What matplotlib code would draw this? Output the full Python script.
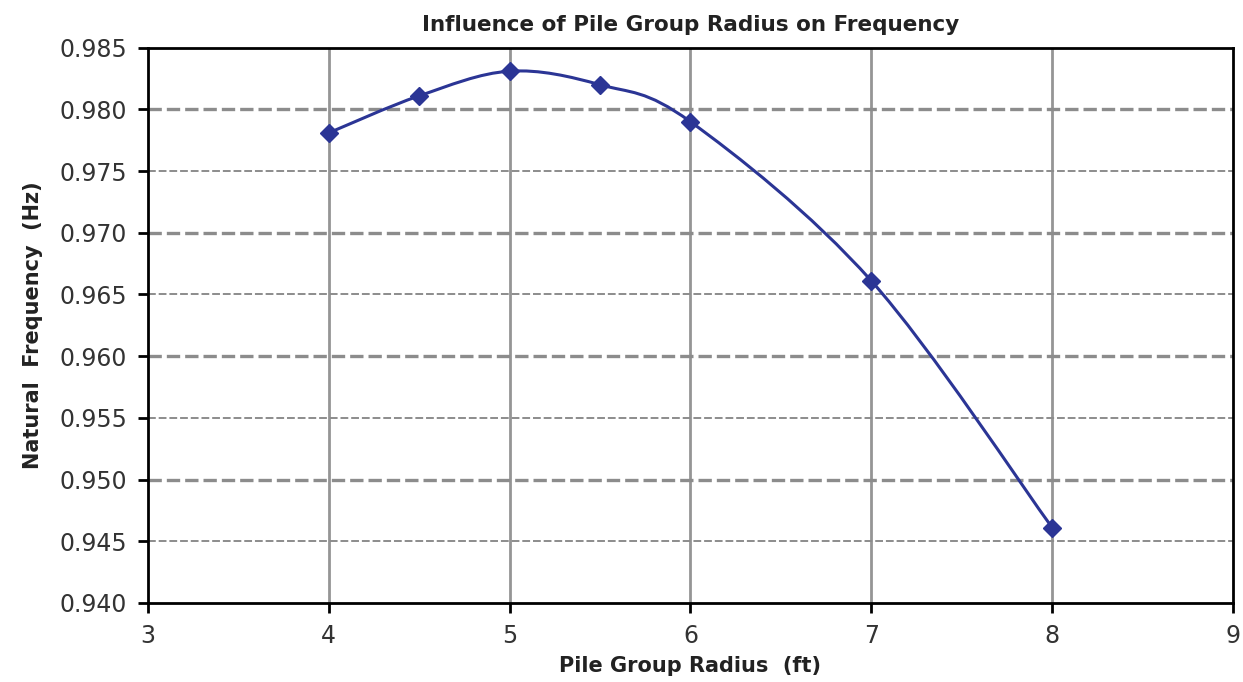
import numpy as np
import matplotlib.pyplot as plt
from matplotlib.path import Path
from matplotlib.patches import PathPatch

plt.rcParams['font.family'] = ['DejaVu Sans']

radius = [4, 4.5, 5, 5.5, 6, 7, 8]
frequency = [0.9781, 0.9811, 0.9831, 0.9820, 0.9790, 0.9661, 0.9461]

LINE_COLOR = "#2B3595"
TEXT_COLOR = "#222222"

fig = plt.figure(figsize=(12.43, 6.82), dpi=100)
ax = fig.add_axes([0.119, 0.116, 0.873, 0.814])

# smoothed line, Excel style (Catmull-Rom style bezier segments)
pts = np.column_stack([radius, frequency])
verts = [tuple(pts[0])]
codes = [Path.MOVETO]
n = len(pts)
for i in range(n - 1):
    p0 = pts[i - 1] if i > 0 else pts[i]
    p1 = pts[i]
    p2 = pts[i + 1]
    p3 = pts[i + 2] if i + 2 < n else pts[i + 1]
    c1 = p1 + (p2 - p0) / 6.0
    c2 = p2 - (p3 - p1) / 6.0
    verts += [tuple(c1), tuple(c2), tuple(p2)]
    codes += [Path.CURVE4] * 3
ax.add_patch(PathPatch(Path(verts, codes), facecolor="none", edgecolor=LINE_COLOR, lw=2.2, zorder=3))
ax.plot(radius, frequency, linestyle="none", marker="D", markersize=9, color=LINE_COLOR, zorder=4)

ax.set_xlim(3, 9)
ax.set_ylim(0.940, 0.985)
ax.set_xticks(np.arange(3, 10, 1))
yt = np.round(np.arange(0.940, 0.9851, 0.005), 3)
ax.set_yticks(yt)
ax.set_yticklabels(["%.3f" % v for v in yt])

# grid
for xv in range(4, 9):
    ax.axvline(xv, color="#959595", lw=2, zorder=1)
for i, yv in enumerate(yt[1:-1]):
    major = (round(yv * 1000) % 10 == 0)
    ax.axhline(yv, color="#8c8c8c", lw=2.4 if major else 1.4, ls=(0, (4, 1.5)), zorder=1)

for s in ax.spines.values():
    s.set_linewidth(2)
    s.set_color("black")

ax.tick_params(axis="both", direction="out", length=7, width=2, labelsize=17,
               colors="black", labelcolor="#333333")
ax.tick_params(axis="y", pad=8)
ax.tick_params(axis="x", pad=8)

ax.set_title("Influence of Pile Group Radius on Frequency", fontsize=15.5, fontweight="bold",
             pad=12, color=TEXT_COLOR)
ax.set_xlabel("Pile Group Radius  (ft)", fontsize=15, fontweight="bold", labelpad=6, color=TEXT_COLOR)
ax.set_ylabel("Natural  Frequency  (Hz)", fontsize=15, fontweight="bold", labelpad=12, color=TEXT_COLOR)

fig.savefig("out.png", dpi=100)
